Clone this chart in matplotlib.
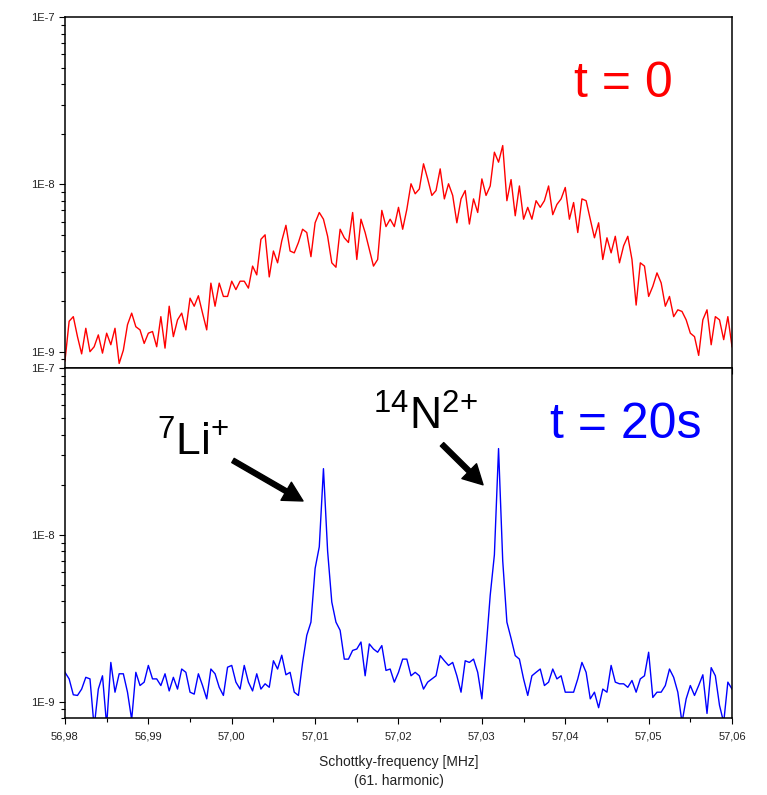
import numpy as np
import matplotlib
matplotlib.use('Agg')
import matplotlib.pyplot as plt
from matplotlib.ticker import MultipleLocator, LogLocator, FixedLocator, FuncFormatter, NullFormatter

plt.rcParams['font.family'] = ['Liberation Sans', 'DejaVu Sans']
plt.rcParams['mathtext.fontset'] = 'custom'
plt.rcParams['mathtext.rm'] = 'Liberation Sans'
plt.rcParams['mathtext.it'] = 'Liberation Sans:italic'

# Schottky noise power, units of 1E-9 (bins of 0.5 kHz)
f_start, f_stop = 56.98, 57.06
decades = [1e-9, 1e-8, 1e-7]

amp_t0 = [
    0.88, 1.52, 1.62, 1.23, 0.97, 1.38, 1.0, 1.07, 1.26, 0.98,
    1.29, 1.1, 1.38, 0.85, 1.02, 1.45, 1.7, 1.41, 1.35, 1.12,
    1.29, 1.32, 1.07, 1.62, 1.05, 1.87, 1.23, 1.55, 1.7, 1.35,
    2.09, 1.87, 2.16, 1.7, 1.35, 2.57, 1.87, 2.57, 2.14, 2.14,
    2.64, 2.35, 2.64, 2.64, 2.4, 3.25, 2.88, 4.7, 5.0, 2.8,
    4.0, 3.4, 4.6, 5.7, 4.0, 3.9, 4.5, 5.4, 5.16, 3.7,
    5.9, 6.8, 6.2, 4.9, 3.4, 3.2, 5.4, 4.8, 4.5, 6.8,
    3.56, 6.2, 5.16, 4.1, 3.25, 3.56, 7.0, 5.6, 6.2, 5.6,
    7.3, 5.4, 7.1, 10.1, 8.8, 9.4, 13.3, 10.8, 8.6, 9.2,
    12.4, 8.2, 10.1, 8.6, 5.9, 8.2, 9.2, 5.8, 8.2, 6.8,
    10.8, 8.6, 9.8, 15.6, 13.6, 17.1, 8.0, 10.7, 6.5, 9.8,
    6.2, 7.3, 6.2, 8.0, 7.3, 8.0, 9.8, 6.6, 7.6, 8.2,
    9.6, 6.2, 7.8, 5.16, 8.2, 8.0, 6.2, 4.8, 5.9, 3.56,
    4.8, 3.9, 4.9, 3.4, 4.3, 4.9, 3.56, 1.9, 3.4, 3.25,
    2.14, 2.46, 2.96, 2.58, 1.87, 2.14, 1.62, 1.78, 1.74, 1.55,
    1.29, 1.23, 0.95, 1.55, 1.78, 1.1, 1.62, 1.55, 1.18, 1.62,
    1.07,
]

amp_t20 = [
    1.5, 1.37, 1.1, 1.09, 1.19, 1.4, 1.37, 0.7, 1.19, 1.43,
    0.72, 1.72, 1.14, 1.47, 1.47, 1.14, 0.78, 1.5, 1.25, 1.31,
    1.65, 1.37, 1.37, 1.25, 1.47, 1.16, 1.4, 1.19, 1.57, 1.5,
    1.14, 1.11, 1.47, 1.25, 1.04, 1.57, 1.47, 1.22, 1.09, 1.61,
    1.65, 1.31, 1.19, 1.65, 1.31, 1.16, 1.47, 1.19, 1.28, 1.22,
    1.76, 1.57, 1.9, 1.45, 1.5, 1.14, 1.09, 1.72, 2.5, 3.0,
    6.3, 8.5, 25.0, 8.0, 3.96, 3.0, 2.68, 1.8, 1.8, 2.03,
    2.07, 2.28, 1.43, 2.22, 2.07, 1.98, 2.17, 1.54, 1.57, 1.31,
    1.5, 1.8, 1.8, 1.43, 1.5, 1.43, 1.19, 1.31, 1.37, 1.43,
    1.89, 1.76, 1.65, 1.72, 1.43, 1.14, 1.76, 1.72, 1.8, 1.5,
    1.04, 2.07, 4.35, 7.6, 33.0, 7.0, 3.0, 2.4, 1.89, 1.8,
    1.37, 1.09, 1.43, 1.5, 1.57, 1.25, 1.31, 1.57, 1.37, 1.43,
    1.14, 1.14, 1.14, 1.37, 1.72, 1.5, 1.04, 1.14, 0.92, 1.19,
    1.14, 1.65, 1.31, 1.28, 1.28, 1.22, 1.34, 1.14, 1.37, 1.43,
    1.98, 1.06, 1.14, 1.14, 1.25, 1.57, 1.4, 1.14, 0.75, 1.04,
    1.25, 1.09, 1.25, 1.45, 0.85, 1.6, 1.43, 0.95, 0.75, 1.31,
    1.19,
]

freq = np.linspace(f_start, f_stop, len(amp_t0))
y_t0 = np.array(amp_t0) * 1e-9
y_t20 = np.array(amp_t20) * 1e-9

ylim = (7.95e-10, 1e-7)
tick_col = '#222222'


def style_axis(ax, show_xlabels):
    ax.set_yscale('log')
    ax.set_xlim(f_start, f_stop)
    ax.set_ylim(*ylim)
    ax.xaxis.set_major_locator(MultipleLocator(0.01))
    ax.xaxis.set_minor_locator(MultipleLocator(0.005))
    ax.yaxis.set_major_locator(FixedLocator(decades))
    ax.yaxis.set_minor_locator(LogLocator(base=10, subs=np.arange(2, 10)))
    ax.yaxis.set_major_formatter(FuncFormatter(lambda v, p: '1E%d' % round(np.log10(v))))
    ax.yaxis.set_minor_formatter(NullFormatter())
    if show_xlabels:
        ax.xaxis.set_major_formatter(FuncFormatter(lambda v, p: ('%.2f' % v).replace('.', ',')))
    else:
        ax.xaxis.set_major_formatter(NullFormatter())
    ax.tick_params(which='both', direction='out', top=False, right=False,
                   width=0.8, colors='black', labelcolor=tick_col)
    ax.tick_params(which='major', length=4.5)
    ax.tick_params(which='minor', length=3)
    ax.tick_params(axis='y', labelsize=8, pad=3)
    ax.tick_params(axis='x', labelsize=8, pad=5)
    for s in ax.spines.values():
        s.set_linewidth(1.1)


fig = plt.figure(figsize=(7.67, 7.95), dpi=100)
ax1 = fig.add_axes([0.0847, 0.5367, 0.8697, 0.4415])
ax2 = fig.add_axes([0.0847, 0.0965, 0.8697, 0.4402])

ax1.plot(freq, y_t0, color='red', lw=1.0)
style_axis(ax1, False)
ax1.text(57.04699, 3.34e-8, 't = 0', color='red', fontsize=36, ha='center', va='baseline')

ax2.plot(freq, y_t20, color='blue', lw=1.0)
style_axis(ax2, True)
ax2.text(57.04729, 3.8e-8, 't = 20s', color='blue', fontsize=36, ha='center', va='baseline')

ax2.text(56.99103, 2.99e-8, r'$^{7}$Li$^{{+}}$', fontsize=32, ha='left', va='baseline')
ax2.text(57.01694, 4.3e-8, r'$^{14}$N$^{2{+}}$', fontsize=32, ha='left', va='baseline')

arrow = dict(facecolor='black', edgecolor='black', width=3.5, headwidth=15,
             headlength=14, shrink=0)
ax2.annotate('', xy=(57.00855, 1.6e-8), xytext=(57.00015, 2.8e-8), arrowprops=arrow)
ax2.annotate('', xy=(57.03014, 2.0e-8), xytext=(57.02522, 3.5e-8), arrowprops=arrow)

ax2.set_xlabel('Schottky-frequency [MHz]\n(61. harmonic)', fontsize=10,
               color=tick_col, linespacing=1.4, labelpad=10)

fig.savefig('out.png', dpi=100)
